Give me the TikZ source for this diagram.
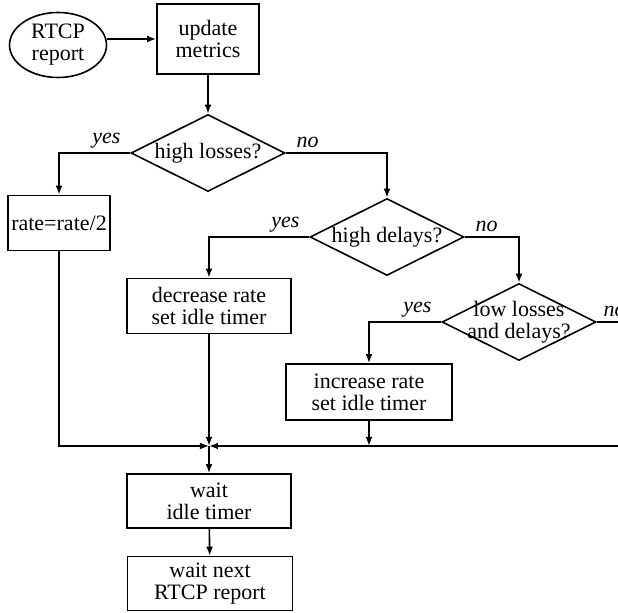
\documentclass[tikz,border=0pt]{standalone}
\usepackage{fontspec}
\setmainfont{Liberation Serif}
\usetikzlibrary{shapes.geometric,arrows.meta}

\begin{document}
\begin{tikzpicture}[x=0.5pt,y=-0.5pt,line width=0.8pt,
        font=\fontsize{11}{11}\selectfont,
        every node/.style={inner sep=0pt},
        terminal/.style={draw, ellipse, align=center, minimum width=48.5pt, minimum height=32.5pt},
        process/.style={draw, rectangle, align=center},
        decision/.style={draw, diamond, minimum width=77pt, minimum height=38.5pt},
        branch/.style={font=\fontsize{11}{11}\selectfont\itshape, inner sep=2pt},
        arr/.style={-{Latex[length=4.5pt,width=3.4pt]}}]
        \useasboundingbox (0,0) rectangle (618,613);

        \node[terminal] (rtcp) at (58,45) {RTCP\\report};
        \node[process, minimum width=51pt, minimum height=35pt] (update) at (208,39) {update\\metrics};
        \node[decision, label=center:high losses?] (losses) at (208,153) {};
        \node[process, minimum width=51pt, minimum height=27.5pt] (halve) at (59,223) {rate=rate/2};
        \node[decision, label=center:high delays?] (delays) at (387,237) {};
        \node[process, minimum width=82pt, minimum height=27.5pt] (decrease) at (209,306) {decrease rate\\set idle timer};
        \node[decision, label={[align=center]center:{low losses\\and delays?}}] (lowld) at (519,322) {};
        \node[process, minimum width=83pt, minimum height=28pt] (increase) at (369,392) {increase rate\\set idle timer};
        \coordinate (merge) at (209,446);
        \coordinate (farright) at (660,446);
        \node[process, minimum width=82pt, minimum height=27pt] (wait) at (209,501) {wait\\idle timer};
        \node[process, minimum width=82.5pt, minimum height=27pt] (next) at (210,583.5) {wait next\\RTCP report};

        % decisions
        \draw[arr] (rtcp.east |- update.west) -- (update.west);
        \draw[arr] (update) -- (losses);
        \draw[arr] (losses.west) node[branch, above left, xshift=-2.5pt] {yes} -| (halve);
        \draw[arr] (losses.east) node[branch, above right, xshift=3pt] {no} -| (delays);
        \draw[arr] (delays.west) node[branch, above left, xshift=-2.5pt] {yes} -| (decrease);
        \draw[arr] (delays.east) node[branch, above right, xshift=3pt] {no} -| (lowld);
        \draw[arr] (lowld.west) node[branch, above left, xshift=-2.5pt] {yes} -| (increase);
        \draw[arr] (lowld.east) node[branch, above right, xshift=1pt] {no} -| (farright) -- (merge);

        % join
        \draw[arr] (halve) |- (merge);
        \draw[arr] (decrease) -- (merge);
        \draw[arr] (increase) -- (increase |- merge);
        \draw[arr] (merge) -- (wait);
        \draw[arr] (wait) -- (next);
\end{tikzpicture}
\end{document}
